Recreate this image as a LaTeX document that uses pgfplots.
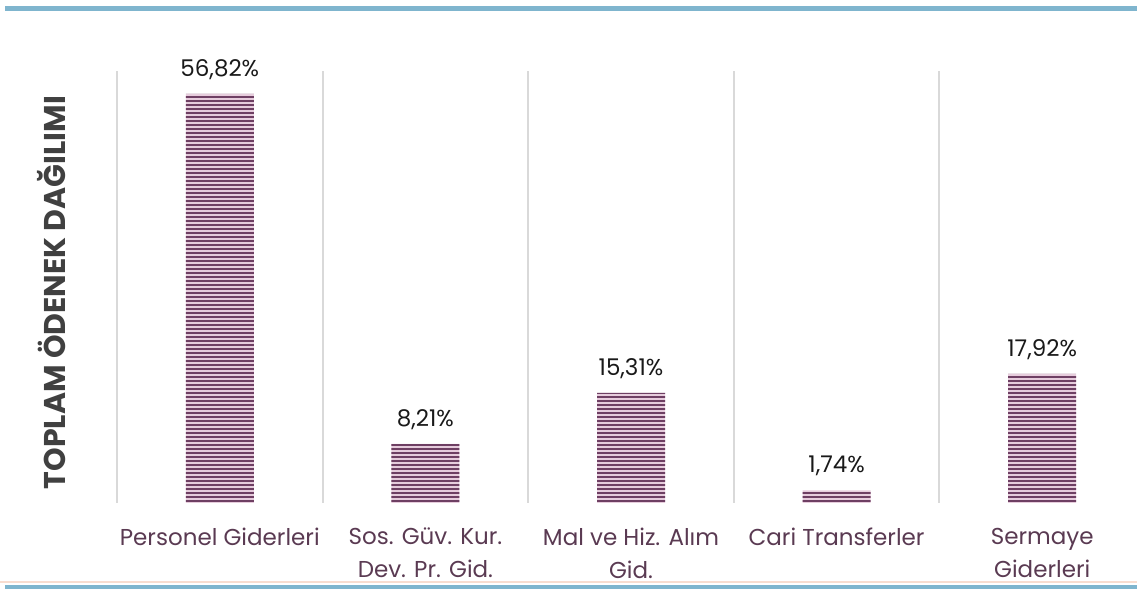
\documentclass[border=0pt]{standalone}
\usepackage{fontspec}
\setmainfont{Poppins}
\usepackage{pgfplots}
\pgfplotsset{compat=1.18}
\usetikzlibrary{patterns.meta}
\definecolor{topblue}{HTML}{7FB5CE}
\definecolor{peach}{HTML}{F8DDD0}
\definecolor{bardark}{HTML}{6E3F63}
\definecolor{barlight}{HTML}{E6CCDC}
\definecolor{ticktext}{HTML}{5A3A52}
\definecolor{gridgray}{HTML}{D9D9D9}
\begin{document}
\begin{tikzpicture}
\useasboundingbox (0,0) rectangle (568.5pt,294.5pt);
% frame lines
\fill[topblue] (2.5pt,289pt) rectangle (568.5pt,291.5pt);
\fill[peach] (0pt,3pt) rectangle (568.5pt,3.8pt);
\fill[topblue] (2.5pt,0pt) rectangle (568.5pt,2pt);
\begin{axis}[
  at={(58.5pt,43pt)}, anchor=south west,
  scale only axis, width=514pt, height=216pt,
  xmin=-0.5, xmax=4.5, ymin=0, ymax=60,
  ybar, bar width=34pt,
  xtick={0,...,4},
  xticklabels={Personel Giderleri,{Sos. Güv. Kur.\\Dev. Pr. Gid.},{Mal ve Hiz. Alım\\Gid.},Cari Transferler,{Sermaye\\Giderleri}},
  minor xtick={-0.5,0.5,1.5,2.5,3.5,4.5},
  xminorgrids,
  minor grid style={gridgray, line width=1pt},
  ytick=\empty,
  axis line style={draw=none},
  major tick length=0pt, minor tick length=0pt,
  xticklabel style={align=center, font=\fontsize{11.5}{16.5}\selectfont, text=ticktext, yshift=-9pt},
  ylabel={\bfseries TOPLAM ÖDENEK DAĞILIMI},
  ylabel style={at={(axis description cs:-0.0632,0.487)}, anchor=center, font=\fontsize{15}{16}\selectfont, text=black!75},
  nodes near coords={\pgfmathprintnumber{\pgfplotspointmeta}\%},
  nodes near coords style={/pgf/number format/.cd, fixed, fixed zerofill, precision=2, use comma, assume math mode=true,
    /tikz/.cd, font=\fontsize{11.5}{13}\selectfont, text=black!90, inner sep=7pt},
]
\addplot[draw=none, fill=barlight, postaction={pattern={Lines[angle=0,distance=2pt,line width=1pt]}, pattern color=bardark}]
  coordinates {(0,56.82) (1,8.21) (2,15.31) (3,1.74) (4,17.92)};
\end{axis}
\end{tikzpicture}
\end{document}
